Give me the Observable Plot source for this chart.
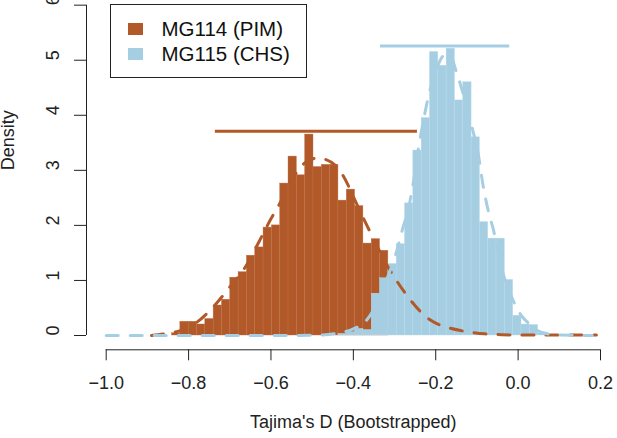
<!DOCTYPE html>
<html><head><meta charset="utf-8">
<script src="https://cdn.jsdelivr.net/npm/d3@7"></script>
<script src="https://cdn.jsdelivr.net/npm/@observablehq/plot@0.6"></script>
<style>
body{margin:0;background:#fff;font-family:"Liberation Sans",Arial,sans-serif}
#wrap{position:relative;width:617px;height:438px;overflow:hidden}
#legend{position:absolute;left:110px;top:4px;width:197px;height:74px;border:1.3px solid #222;box-sizing:border-box;background:#fff}
.sw{position:absolute;width:15px;height:12px}
.lt{position:absolute;font-size:20.5px;line-height:1;color:#111;white-space:nowrap}
</style>
</head><body><div id="wrap"></div>
<script>
// ---- data ----
const seriesNames = ["MG114 (PIM)", "MG115 (CHS)"];
const seriesColors = ["#B15928", "#A6CEE3"];
const xTicks = [-1.0, -0.8, -0.6, -0.4, -0.2, 0.0, 0.2];
const yTicks = [0, 1, 2, 3, 4, 5, 6];
const binWidth = 0.0202;
const brownStart = -0.8402;
const brownDensity = [0.04, 0.25, 0.25, 0.20, 0.30, 0.545, 0.65, 1.05, 1.15, 1.45, 1.6, 1.96, 2.0, 2.76, 3.25, 2.91, 3.65, 3.06, 3.10, 3.10, 2.45, 2.65, 2.35, 1.67, 1.75, 1.54];
const blueStart = -0.4362;
const blueDensity = [0.03, 0.06, 0.12, 0.10, 0.76, 1.04, 1.30, 1.66, 2.40, 3.36, 3.95, 5.15, 4.90, 5.21, 4.27, 4.60, 3.60, 2.06, 1.76, 1.76, 1.01, 0.36, 0.20, 0.19, 0.04];
const brownCurveX = [-0.89, -0.86, -0.82, -0.78, -0.74, -0.70, -0.66, -0.63, -0.60, -0.577, -0.55, -0.52, -0.49, -0.465, -0.44, -0.423, -0.40, -0.375, -0.35, -0.32, -0.29, -0.26, -0.235, -0.213, -0.19, -0.169, -0.14, -0.115, -0.08, -0.04, 0.0, 0.1, 0.19];
const brownCurveY = [0.0, 0.03, 0.09, 0.24, 0.52, 0.88, 1.27, 1.69, 2.12, 2.42, 2.82, 3.12, 3.22, 3.19, 3.06, 2.88, 2.52, 2.12, 1.74, 1.30, 0.94, 0.63, 0.42, 0.28, 0.19, 0.14, 0.09, 0.06, 0.03, 0.015, 0.01, 0.01, 0.01];
const blueCurveX = [-1.0, -0.6, -0.5, -0.46, -0.43, -0.40, -0.37, -0.345, -0.32, -0.298, -0.28, -0.265, -0.255, -0.242, -0.23, -0.218, -0.20, -0.18, -0.165, -0.15, -0.13, -0.11, -0.098, -0.085, -0.072, -0.06, -0.04, -0.011, 0.01, 0.023, 0.04, 0.06, 0.1, 0.18];
const blueCurveY = [0, 0, 0.005, 0.02, 0.05, 0.12, 0.26, 0.55, 1.0, 1.45, 1.95, 2.35, 2.75, 3.40, 3.90, 4.33, 4.80, 5.08, 5.08, 4.79, 4.30, 3.72, 3.35, 2.72, 2.25, 1.92, 1.22, 0.62, 0.34, 0.24, 0.12, 0.05, 0.01, 0.0];
const intervalX1 = [-0.735, -0.334];
const intervalX2 = [-0.2444, -0.0204];
const intervalY = [3.71, 5.26];

// ---- build tables ----
const brownBins = brownDensity.map((d, i) => ({x1: brownStart + i * binWidth, x2: brownStart + (i + 1) * binWidth, d}));
const blueBins = blueDensity.map((d, i) => ({x1: blueStart + i * binWidth, x2: blueStart + (i + 1) * binWidth, d}));
const brownCurve = brownCurveX.map((x, i) => ({x, y: brownCurveY[i]}));
const blueCurve = blueCurveX.map((x, i) => ({x, y: blueCurveY[i]}));
const intervals = intervalY.map((y, i) => ({x1: intervalX1[i], x2: intervalX2[i], y, c: seriesColors[i]}));
const fmt = d3.format(".1f");

const chart = Plot.plot({
  width: 617, height: 438,
  marginLeft: 86, marginRight: 0, marginTop: 0, marginBottom: 88.7,
  x: {domain: [-1, 0.2], range: [105.7, 600]},
  y: {domain: [0, 6], range: [335, 4.67]},
  style: {fontFamily: "'Liberation Sans', Arial, sans-serif", fontSize: "18px", background: "#fff", color: "#222"},
  marks: [
    Plot.rectY(brownBins, {x1: "x1", x2: "x2", y1: 0, y2: "d", fill: seriesColors[0], stroke: "#c0714a", strokeWidth: 0.4}),
    Plot.rectY(blueBins, {x1: "x1", x2: "x2", y1: 0, y2: "d", fill: seriesColors[1], stroke: "#b9d9ea", strokeWidth: 0.4}),
    Plot.line(brownCurve, {x: "x", y: "y", stroke: seriesColors[0], strokeWidth: 3, strokeDasharray: "12,12", curve: "monotone-x"}),
    Plot.line(blueCurve, {x: "x", y: "y", stroke: seriesColors[1], strokeWidth: 3, strokeDasharray: "12,12", curve: "monotone-x"}),
    Plot.ruleY(intervals, {y: "y", x1: "x1", x2: "x2", stroke: "c", strokeWidth: 3}),
    // axis lines (R style, spanning first to last tick)
    Plot.ruleY([0], {x1: xTicks[0], x2: xTicks[xTicks.length - 1], dy: 14.3, stroke: "#222", strokeWidth: 1}),
    Plot.ruleX([xTicks[0]], {y1: yTicks[0], y2: yTicks[yTicks.length - 1], dx: -19.7, stroke: "#222", strokeWidth: 1}),
    Plot.axisX({ticks: xTicks, tickSize: 11, tickPadding: 15, tickFormat: fmt, label: null, stroke: "#222", fill: "#222", fontSize: 18}),
    Plot.axisY({ticks: yTicks, tickSize: 12, tickFormat: () => "", label: null, stroke: "#222"}),
    Plot.text(yTicks, {y: d => d, text: d => String(d), frameAnchor: "left", dx: -33, rotate: -90, fontSize: 18, fill: "#222"}),
    Plot.text(["Density"], {y: 3, text: d => d, frameAnchor: "left", dx: -78, rotate: -90, fontSize: 18, fill: "#222"}),
    Plot.text(["Tajima's D (Bootstrapped)"], {x: -0.4, text: d => d, frameAnchor: "bottom", dy: 78, fontSize: 18, fill: "#222"})
  ]
});
const wrap = document.getElementById("wrap");
wrap.appendChild(chart);

// legend overlay
const legend = document.createElement("div");
legend.id = "legend";
wrap.appendChild(legend);
seriesNames.forEach((name, i) => {
  const sw = document.createElement("div");
  sw.className = "sw";
  sw.style.left = "17px";
  sw.style.top = (18 + i * 25) + "px";
  sw.style.background = seriesColors[i];
  legend.appendChild(sw);
  const t = document.createElement("div");
  t.className = "lt";
  t.style.left = "50.5px";
  t.style.top = (14.3 + i * 25) + "px";
  t.textContent = name;
  legend.appendChild(t);
});
</script></body></html>
